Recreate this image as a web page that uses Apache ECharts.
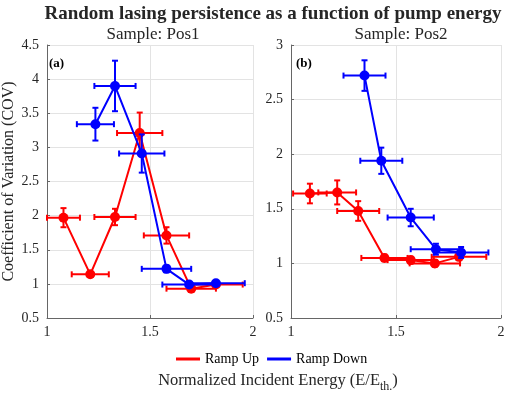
<!DOCTYPE html>
<html>
<head>
<meta charset="utf-8">
<script src="https://cdn.jsdelivr.net/npm/echarts@6/dist/echarts.min.js"></script>
<style>
  html, body { margin: 0; padding: 0; background: #fff; }
  #main { width: 508px; height: 395px; }
</style>
</head>
<body>
<div id="main"></div>
<script>
'use strict'
// COV vs normalized pump energy, two samples, ramp up / ramp down with x and y error bars

var upColor = '#ff0000';
var downColor = '#0000ff';
var serif = "'Liberation Serif', 'Times New Roman', serif";

// Sample Pos1
var up1X = [1.08, 1.21, 1.33, 1.45, 1.58, 1.70, 1.82];
var up1Y = [1.97, 1.14, 1.98, 3.21, 1.71, 0.93, 0.99];
var up1Xerr = [0.08, 0.09, 0.10, 0.11, 0.11, 0.12, 0.13];
var up1Yerr = [0.14, 0.03, 0.12, 0.30, 0.12, 0.03, 0.03];

var down1X = [1.235, 1.33, 1.46, 1.58, 1.69, 1.82];
var down1Y = [3.34, 3.90, 2.91, 1.22, 0.99, 1.01];
var down1Xerr = [0.09, 0.10, 0.11, 0.12, 0.13, 0.14];
var down1Yerr = [0.24, 0.37, 0.28, 0.05, 0.03, 0.03];

// Sample Pos2
var up2X = [1.09, 1.22, 1.32, 1.445, 1.57, 1.685, 1.80];
var up2Y = [1.64, 1.65, 1.48, 1.05, 1.03, 1.00, 1.06];
var up2Xerr = [0.08, 0.09, 0.10, 0.11, 0.11, 0.12, 0.13];
var up2Yerr = [0.09, 0.11, 0.09, 0.03, 0.03, 0.03, 0.03];

var down2X = [1.35, 1.43, 1.57, 1.69, 1.81];
var down2Y = [2.72, 1.94, 1.42, 1.13, 1.10];
var down2Xerr = [0.10, 0.10, 0.11, 0.12, 0.13];
var down2Yerr = [0.14, 0.12, 0.08, 0.05, 0.05];

function pairs(xs, ys) {
    return xs.map(function (x, i) { return [x, ys[i]]; });
}

function errRows(xs, ys, xe, ye) {
    return xs.map(function (x, i) { return [x, ys[i], xe[i], ye[i]]; });
}

function errorBars(color) {
    return function (params, api) {
        var x = api.value(0), y = api.value(1);
        var xe = api.value(2), ye = api.value(3);
        var l = api.coord([x - xe, y]);
        var r = api.coord([x + xe, y]);
        var t = api.coord([x, y + ye]);
        var b = api.coord([x, y - ye]);
        var cap = 3;
        var st = { stroke: color, lineWidth: 2 };
        var lines = [
            [l[0], l[1], r[0], r[1]],
            [l[0], l[1] - cap, l[0], l[1] + cap],
            [r[0], r[1] - cap, r[0], r[1] + cap],
            [t[0], t[1], b[0], b[1]],
            [t[0] - cap, t[1], t[0] + cap, t[1]],
            [b[0] - cap, b[1], b[0] + cap, b[1]]
        ];
        return {
            type: 'group',
            children: lines.map(function (p) {
                return { type: 'line', shape: { x1: p[0], y1: p[1], x2: p[2], y2: p[3] }, style: st };
            })
        };
    };
}

function lineSeries(name, color, idx, data, z) {
    return {
        name: name,
        type: 'line',
        xAxisIndex: idx,
        yAxisIndex: idx,
        data: data,
        symbol: 'circle',
        symbolSize: 10,
        z: z,
        itemStyle: { color: color },
        lineStyle: { color: color, width: 2 },
        emphasis: { disabled: true }
    };
}

function errSeries(name, color, idx, data, z) {
    return {
        name: name,
        type: 'custom',
        xAxisIndex: idx,
        yAxisIndex: idx,
        data: data,
        z: z,
        itemStyle: { color: color },
        renderItem: errorBars(color)
    };
}

function xAxisOpt(idx) {
    return {
        type: 'value',
        gridIndex: idx,
        min: 1,
        max: 2,
        interval: 0.5,
        axisLine: { show: true, lineStyle: { color: '#666', width: 1 } },
        axisTick: { show: true, inside: true, length: 3, lineStyle: { color: '#666' } },
        axisLabel: { color: '#262626', fontFamily: serif, fontSize: 14, margin: 7 },
        splitLine: { show: true, lineStyle: { color: '#e3e3e3', width: 1 } }
    };
}

function yAxisOpt(idx, max, name) {
    return {
        type: 'value',
        gridIndex: idx,
        min: 0.5,
        max: max,
        interval: 0.5,
        name: name,
        nameLocation: 'middle',
        nameGap: 30,
        nameTextStyle: { color: '#262626', fontFamily: serif, fontSize: 16 },
        axisLine: { show: true, lineStyle: { color: '#666', width: 1 } },
        axisTick: { show: true, inside: true, length: 3, lineStyle: { color: '#666' } },
        axisLabel: { color: '#262626', fontFamily: serif, fontSize: 14, margin: 8 },
        splitLine: { show: true, lineStyle: { color: '#e3e3e3', width: 1 } }
    };
}

var option = {
    backgroundColor: '#fff',
    animation: false,
    textStyle: { fontFamily: serif },
    title: [
        {
            text: 'Random lasing persistence as a function of pump energy',
            left: 268, top: 0, textAlign: 'center',
            textStyle: { fontFamily: serif, fontWeight: 'bold', fontSize: 19, color: '#262626' }
        },
        {
            text: 'Sample: Pos1',
            left: 148, top: 21, textAlign: 'center',
            textStyle: { fontFamily: serif, fontWeight: 'normal', fontSize: 17, color: '#262626' }
        },
        {
            text: 'Sample: Pos2',
            left: 396, top: 21, textAlign: 'center',
            textStyle: { fontFamily: serif, fontWeight: 'normal', fontSize: 17, color: '#262626' }
        },
        {
            text: '(a)',
            left: 44, top: 52,
            textStyle: { fontFamily: serif, fontWeight: 'bold', fontSize: 13, color: '#000' }
        },
        {
            text: '(b)',
            left: 291, top: 52,
            textStyle: { fontFamily: serif, fontWeight: 'bold', fontSize: 13, color: '#000' }
        },
        {
            text: '{a|Normalized Incident Energy (E/E}{s|th.}{a|)}',
            left: 273, top: 364, textAlign: 'center',
            textStyle: {
                fontWeight: 'normal',
                rich: {
                    a: { fontFamily: serif, fontWeight: 'normal', fontSize: 16.5, color: '#262626' },
                    s: { fontFamily: serif, fontWeight: 'normal', fontSize: 12, color: '#262626', padding: [12, 0, 0, 0] }
                }
            }
        }
    ],
    legend: {
        left: 171,
        top: 347,
        icon: 'rect',
        itemWidth: 24,
        itemHeight: 3,
        itemGap: 8,
        data: ['Ramp Up', 'Ramp Down'],
        formatter: '{t|{name}}',
        textStyle: {
            fontFamily: serif, fontSize: 14, color: '#000',
            rich: { t: { fontFamily: serif, fontSize: 14, color: '#000' } }
        }
    },
    grid: [
        { left: 44, top: 45, width: 209, height: 273 },
        { left: 291, top: 45, width: 210, height: 273 }
    ],
    xAxis: [xAxisOpt(0), xAxisOpt(1)],
    yAxis: [yAxisOpt(0, 4.5, 'Coefficient of Variation (COV)'), yAxisOpt(1, 3, '')],
    series: [
        errSeries('Ramp Up', upColor, 0, errRows(up1X, up1Y, up1Xerr, up1Yerr), 2),
        lineSeries('Ramp Up', upColor, 0, pairs(up1X, up1Y), 3),
        errSeries('Ramp Down', downColor, 0, errRows(down1X, down1Y, down1Xerr, down1Yerr), 4),
        lineSeries('Ramp Down', downColor, 0, pairs(down1X, down1Y), 5),
        errSeries('Ramp Up', upColor, 1, errRows(up2X, up2Y, up2Xerr, up2Yerr), 2),
        lineSeries('Ramp Up', upColor, 1, pairs(up2X, up2Y), 3),
        errSeries('Ramp Down', downColor, 1, errRows(down2X, down2Y, down2Xerr, down2Yerr), 4),
        lineSeries('Ramp Down', downColor, 1, pairs(down2X, down2Y), 5)
    ]
};

var myChart = echarts.init(document.getElementById('main'));
myChart.setOption(option);
</script>
</body>
</html>
